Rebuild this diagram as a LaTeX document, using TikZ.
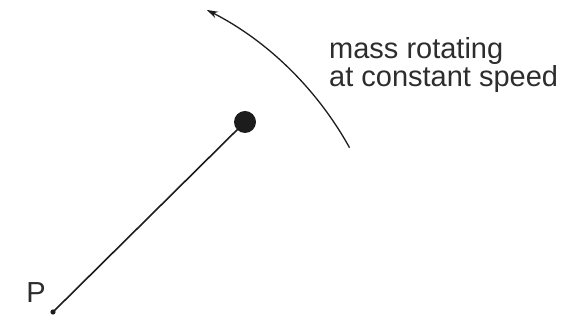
\documentclass[tikz,border=0pt]{standalone}
\usepackage{fontspec}
\setmainfont{Liberation Sans}
\usepackage{xcolor}
\usepackage{tikz}
\usetikzlibrary{arrows.meta, positioning, calc}
\definecolor{RotInk}{RGB}{28, 28, 28}
\definecolor{RotText}{RGB}{45, 45, 45}

\tikzset{
  rodline/.style={RotInk, line width=1.6pt},
  pathline/.style={RotInk, line width=1.3pt, -{Stealth[length=11pt, width=7pt]}},
  caption/.style={text=RotText, font=\fontsize{29}{27}\selectfont, inner sep=0pt}
}

\begin{document}
\begin{tikzpicture}[x=1pt,y=1pt]
  \path[use as bounding box] (0,0) rectangle (569,320);

  % Pivot and rotating mass
  \coordinate (pivot) at (53,8);
  \coordinate (mass) at (245,198);
  \draw[rodline] (pivot) -- (mass);
  \fill[RotInk] (pivot) circle (2.6);
  \fill[RotInk] (mass) circle (11);
  \node[caption, anchor=base east] (plabel) at (46,17) {P};

  % Direction of motion
  \draw[pathline] ($(pivot)+(29:339)$) arc[start angle=29, end angle=63, radius=339] coordinate (tip);

  % Label
  \node[caption, anchor=base west, align=left] (masslabel) at (329,233) {mass rotating\\at constant speed};
\end{tikzpicture}
\end{document}
